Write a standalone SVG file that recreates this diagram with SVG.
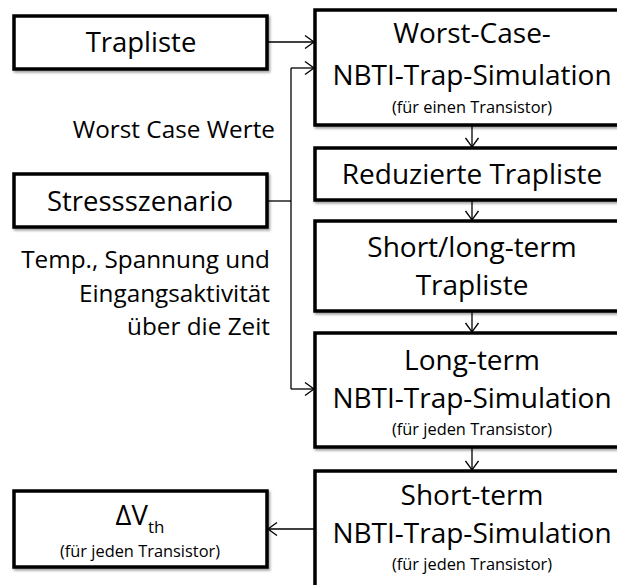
<svg xmlns="http://www.w3.org/2000/svg" width="617" height="585" viewBox="0 0 617 585">
<style>
.box{fill:#fff;stroke:#000;stroke-width:3.5;filter:url(#sh)}
.t{font-family:"Open Sans","Liberation Sans",sans-serif;font-size:28px;fill:#000;text-anchor:middle}
.m{font-family:"Open Sans","Liberation Sans",sans-serif;font-size:27.5px;fill:#000;text-anchor:middle}
.s{font-family:"Open Sans","Liberation Sans",sans-serif;font-size:16.4px;fill:#000;text-anchor:middle}
.l{font-family:"Open Sans","Liberation Sans",sans-serif;font-size:24.3px;fill:#000;text-anchor:end}
.c{fill:none;stroke:#000;stroke-width:1.3}
.a{marker-end:url(#ah)}
</style>
<defs>
<filter id="sh" x="-10%" y="-10%" width="130%" height="140%">
<feDropShadow dx="1.5" dy="2" stdDeviation="1.2" flood-color="#000" flood-opacity="0.35"/>
</filter>
<marker id="ah" markerWidth="12" markerHeight="14" refX="10" refY="7" orient="auto" markerUnits="userSpaceOnUse">
<path d="M1,0.5 L10,7 L1,13.5" fill="none" stroke="#000" stroke-width="1.3"/>
</marker>
</defs>
<g id="connectors">
<path class="c a" d="M267,42 H314"/>
<path class="c" d="M267,201 H291"/>
<path class="c" d="M291,68 V389"/>
<path class="c a" d="M291,68 H314"/>
<path class="c a" d="M291,389 H314"/>
<path class="c a" d="M472,125 V147"/>
<path class="c a" d="M472,200 V220"/>
<path class="c a" d="M472,311 V332"/>
<path class="c a" d="M472,447 V470"/>
<path class="c a" d="M315,529 H268"/>
</g>
<g id="trapliste">
<rect class="box" x="14" y="16" width="253" height="53"/>
<text class="m" x="141" y="52">Trapliste</text>
</g>
<g id="stressszenario">
<rect class="box" x="14" y="174" width="253" height="53"/>
<text class="m" x="140" y="211">Stressszenario</text>
</g>
<g id="label-worst">
<text class="l" x="275" y="138">Worst Case Werte</text>
</g>
<g id="label-temp">
<text class="l" x="270" y="268">Temp., Spannung und</text>
<text class="l" x="270" y="302">Eingangsaktivität</text>
<text class="l" x="270" y="335">über die Zeit</text>
</g>
<g id="worst-case-sim">
<rect class="box" x="315" y="10" width="330" height="115"/>
<text class="t" x="472" y="43">Worst-Case-</text>
<text class="t" x="472" y="85">NBTI-Trap-Simulation</text>
<text class="s" x="472" y="113">(für einen Transistor)</text>
</g>
<g id="reduzierte-trapliste">
<rect class="box" x="315" y="148" width="330" height="52"/>
<text class="t" x="472" y="184">Reduzierte Trapliste</text>
</g>
<g id="short-long-trapliste">
<rect class="box" x="315" y="221" width="330" height="90"/>
<text class="t" x="472" y="257">Short/long-term</text>
<text class="t" x="472" y="295">Trapliste</text>
</g>
<g id="long-term-sim">
<rect class="box" x="315" y="333" width="330" height="114"/>
<text class="t" x="472" y="370">Long-term</text>
<text class="t" x="472" y="408">NBTI-Trap-Simulation</text>
<text class="s" x="472" y="435">(für jeden Transistor)</text>
</g>
<g id="short-term-sim">
<rect class="box" x="315" y="471" width="330" height="130"/>
<text class="t" x="472" y="505">Short-term</text>
<text class="t" x="472" y="543">NBTI-Trap-Simulation</text>
<text class="s" x="472" y="570">(für jeden Transistor)</text>
</g>
<g id="delta-vth">
<rect class="box" x="14" y="491" width="253" height="76"/>
<text class="m" x="140" y="525">ΔV<tspan font-size="17" dy="8">th</tspan></text>
<text class="s" x="140" y="557">(für jeden Transistor)</text>
</g>
</svg>
